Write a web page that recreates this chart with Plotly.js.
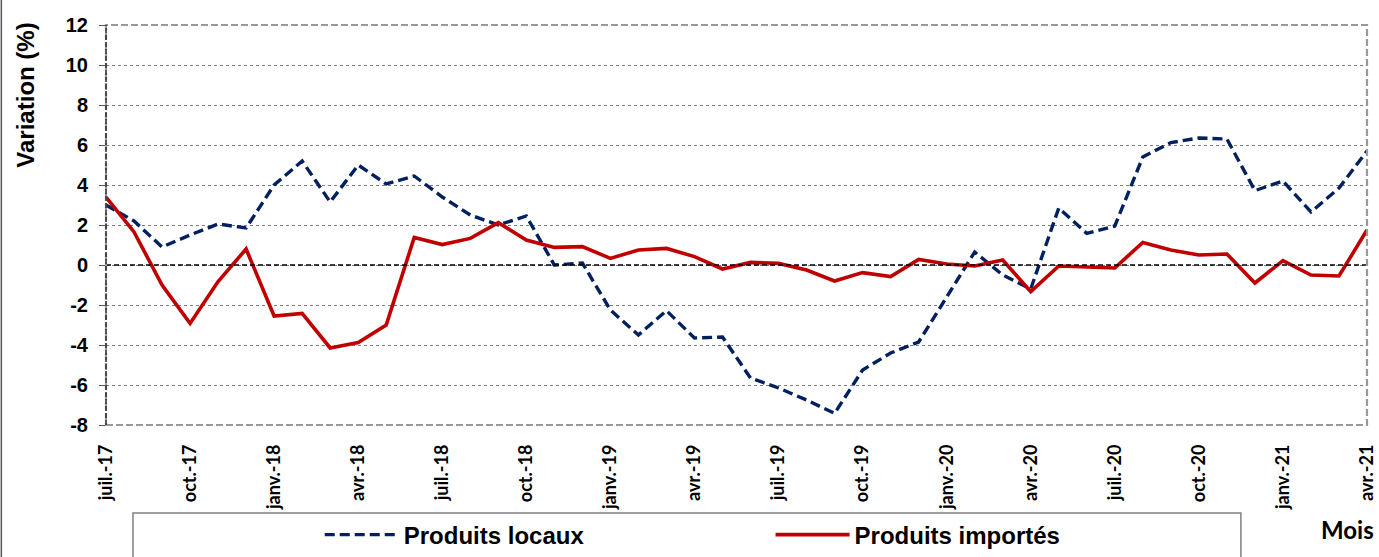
<!DOCTYPE html>
<html>
<head>
<meta charset="utf-8">
<script src="https://cdn.plot.ly/plotly-3.0.1.min.js"></script>
<style>html,body{margin:0;padding:0;background:#fff;}#chart{width:1379px;height:557px;}</style>
</head>
<body>
<div id="chart"></div>
<script>
const months = ["juil.-17","août-17","sept.-17","oct.-17","nov.-17","déc.-17",
  "janv.-18","févr.-18","mars-18","avr.-18","mai-18","juin-18",
  "juil.-18","août-18","sept.-18","oct.-18","nov.-18","déc.-18",
  "janv.-19","févr.-19","mars-19","avr.-19","mai-19","juin-19",
  "juil.-19","août-19","sept.-19","oct.-19","nov.-19","déc.-19",
  "janv.-20","févr.-20","mars-20","avr.-20","mai-20","juin-20",
  "juil.-20","août-20","sept.-20","oct.-20","nov.-20","déc.-20",
  "janv.-21","févr.-21","mars-21","avr.-21"];

const produitsLocaux = [3.0,2.2,0.9,1.5,2.05,1.85,
  4.0,5.2,3.15,5.0,4.05,4.45,
  3.4,2.5,2.0,2.45,0.0,0.1,
  -2.25,-3.5,-2.28,-3.65,-3.6,-5.65,
  -6.15,-6.75,-7.42,-5.25,-4.4,-3.85,
  -1.6,0.65,-0.5,-1.2,2.85,1.58,
  1.95,5.4,6.12,6.35,6.3,3.72,
  4.2,2.65,3.85,5.7];

const produitsImportes = [3.4,1.65,-1.0,-2.92,-0.83,0.8,
  -2.55,-2.42,-4.15,-3.88,-3.0,1.38,
  1.02,1.33,2.12,1.25,0.88,0.92,
  0.33,0.75,0.83,0.42,-0.2,0.13,
  0.08,-0.25,-0.8,-0.38,-0.58,0.28,
  0.05,-0.05,0.25,-1.33,-0.05,-0.08,
  -0.15,1.13,0.75,0.5,0.55,-0.9,
  0.22,-0.5,-0.55,1.75];

const yTicks = [-8,-6,-4,-2,0,2,4,6,8,10,12];
const xTickLabels = months.filter((m,i)=> i%3===0);

const traces = [
  {x: months, y: produitsLocaux, type:'scatter', mode:'lines', name:'Produits locaux',
   line:{color:'#002060', width:3.4, dash:'10px,5px'}, legend:'legend'},
  {x: months, y: produitsImportes, type:'scatter', mode:'lines', name:'Produits importés',
   line:{color:'#C00000', width:3.6}, legend:'legend2'}
];

const layout = {
  width:1379, height:557,
  margin:{l:106, r:12, t:25, b:132, autoexpand:false},
  paper_bgcolor:'#fff', plot_bgcolor:'#fff',
  font:{family:'Arial, Liberation Sans, sans-serif', color:'#000'},
  xaxis:{type:'category', categoryarray: months, range:[0, months.length-1],
    tickvals: xTickLabels, ticktext: xTickLabels, tickangle:-90,
    tickfont:{family:'Lato, Open Sans, sans-serif', size:18, color:'#000', weight:'bold'},
    ticks:'', showgrid:false, showline:false, zeroline:false, ticklabelstandoff:15, automargin:false},
  xaxis2:{matches:'x', overlaying:'x', anchor:'free', position:0.4, side:'bottom',
    ticks:'outside', ticklen:5, tickcolor:'#000', tickwidth:1.3, dtick:1,
    showticklabels:false, showgrid:false, showline:false, zeroline:false},
  yaxis:{range:[-8,12], tickvals:yTicks, ticktext:yTicks.map(String),
    tickfont:{size:20, weight:'bold', color:'#000'},
    ticks:'outside', ticklen:6, tickcolor:'#555', ticklabelstandoff:7,
    showgrid:true, gridcolor:'#808080', griddash:'dot', gridwidth:1,
    zeroline:false, showline:false, automargin:false},
  showlegend:true,
  legend:{x:0.1695, y:-0.275, xanchor:'left', yanchor:'middle', orientation:'h',
    bgcolor:'rgba(0,0,0,0)', borderwidth:0, itemwidth:74,
    font:{size:24, weight:'bold', color:'#000'}},
  legend2:{x:0.527, y:-0.275, xanchor:'left', yanchor:'middle', orientation:'h',
    bgcolor:'rgba(0,0,0,0)', borderwidth:0, itemwidth:74,
    font:{size:24, weight:'bold', color:'#000'}},
  shapes:[
    {type:'line', xref:'paper', yref:'y', x0:0, x1:1, y0:0, y1:0,
     line:{color:'#000', width:1.5, dash:'5px,3px'}, layer:'above'},
    {type:'rect', xref:'paper', yref:'paper', x0:0, x1:1, y0:0, y1:1,
     line:{color:'#999', width:2.2, dash:'7px,3px'}},
    {type:'line', xref:'paper', yref:'paper', x0:0, x1:0, y0:0, y1:1,
     line:{color:'#333', width:1.6, dash:'5px,2px'}},
    {type:'rect', xref:'paper', yref:'paper', x0:0.0214, x1:0.9, y0:-0.22, y1:-0.4,
     line:{color:'#808080', width:1.5}},
    {type:'line', xref:'paper', yref:'paper', x0:-0.083, x1:-0.083, y0:-0.4, y1:1.1,
     line:{color:'#555', width:1.5}}
  ],
  annotations:[
    {text:'Variation (%)', xref:'paper', yref:'paper', x:-0.0645, y:0.825, xanchor:'center', yanchor:'middle',
     textangle:-90, showarrow:false, font:{size:24, weight:'bold', color:'#000'}},
    {text:'Mois', xref:'paper', yref:'paper', x:1.007, y:-0.262, xanchor:'right', yanchor:'middle',
     showarrow:false, font:{family:'Lato, Open Sans, sans-serif', size:24, weight:'bold', color:'#000'}}
  ]
};

Plotly.newPlot('chart', traces, layout, {displayModeBar:false, staticPlot:true});
</script>
</body>
</html>
